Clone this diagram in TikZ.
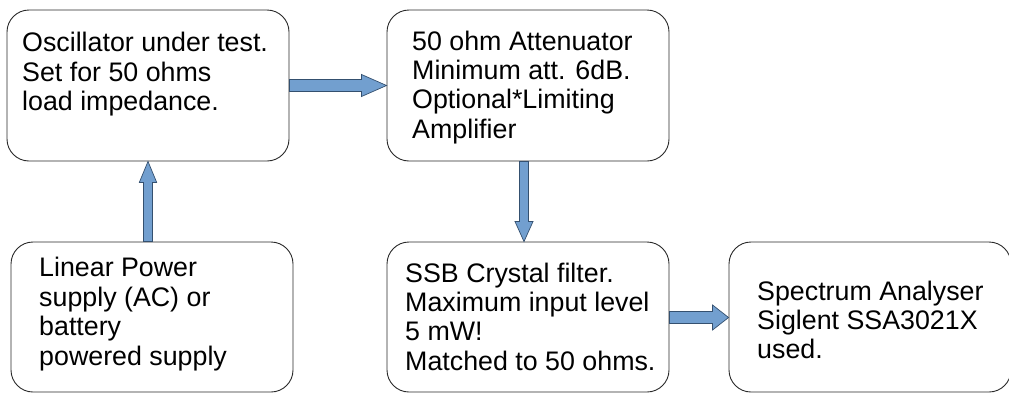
\documentclass[tikz,border=0pt]{standalone}
\usepackage{fontspec}
\setmainfont{Liberation Sans}
\usetikzlibrary{calc}
\definecolor{arrowfill}{HTML}{729FCF}
\definecolor{arrowline}{HTML}{34506F}
\definecolor{boxline}{HTML}{2A2A2A}
\begin{document}
\begin{tikzpicture}[x=1pt,y=-1pt,
  box/.style={draw=boxline, line width=0.9pt, rounded corners=22pt, fill=white,
              minimum width=282pt, minimum height=151pt, inner sep=0pt},
  txt/.style={anchor=north west, inner sep=0pt, align=left, text=black,
              font=\fontsize{26.8}{29.4}\selectfont},
  fat/.style={fill=arrowfill, draw=arrowline, line width=0.7pt, line join=miter}]
\useasboundingbox (0,0) rectangle (1009,394);
\clip (0,0) rectangle (1009,394);

% boxes
\node[box] (osc)  at (148,85.5) {};
\node[box] (att)  at (528,85.5) {};
\node[box, minimum height=150pt] (pwr)  at (152,317) {};
\node[box, minimum height=150pt] (ssb)  at (528,317) {};
\node[box, minimum height=150pt] (spec) at (870,317) {};

% box texts
\node[txt] (osct)  at (22,32.2)   {Oscillator under test.\\Set for 50 ohms\\load impedance.};
\node[txt] (attt)  at (412,30.5)  {50 ohm Attenuator\\Minimum att. 6dB.\\Optional*Limiting\\Amplifier};
\node[txt] (pwrt)  at (39,257.2)  {Linear Power\\supply (AC) or\\battery\\powered supply};
\node[txt] (ssbt)  at (405,262.5) {SSB Crystal filter.\\Maximum input level\\5 mW!\\Matched to 50 ohms.};
\node[txt] (spect) at (757,280.5) {Spectrum Analyser\\Siglent SSA3021X\\used.};

% block arrows
\draw[fat] let \p1=(osc.east), \p2=(att.west) in
  (\x1,\y1+6pt) -- (\x2-25pt,\y1+6pt) -- (\x2-25pt,\y1+11pt) -- (\x2,\y1)
  -- (\x2-25pt,\y1-11pt) -- (\x2-25pt,\y1-6pt) -- (\x1,\y1-6pt) -- cycle;

\draw[fat] let \p1=(osc.south), \p2=(pwr.north) in
  (\x1-4.5pt,\y2) -- (\x1-4.5pt,\y1-21pt) -- (\x1-8.7pt,\y1-21pt) -- (\x1,\y1)
  -- (\x1+8.7pt,\y1-21pt) -- (\x1+4.5pt,\y1-21pt) -- (\x1+4.5pt,\y2) -- cycle;

\draw[fat] let \p1=(att.south), \p2=(ssb.north) in
  (\x1-8.5pt,\y1) -- (\x1-8.5pt,\y2+20pt) -- (\x1-13pt,\y2+20pt) -- (\x1-4pt,\y2)
  -- (\x1+5pt,\y2+20pt) -- (\x1+0.5pt,\y2+20pt) -- (\x1+0.5pt,\y1) -- cycle;

\draw[fat] let \p1=(ssb.east), \p2=(spec.west) in
  (\x1,\y1+5.5pt) -- (\x2-16pt,\y1+5.5pt) -- (\x2-16pt,\y1+12pt) -- (\x2,\y1-0.5pt)
  -- (\x2-16pt,\y1-13pt) -- (\x2-16pt,\y1-6.5pt) -- (\x1,\y1-6.5pt) -- cycle;
\end{tikzpicture}
\end{document}
